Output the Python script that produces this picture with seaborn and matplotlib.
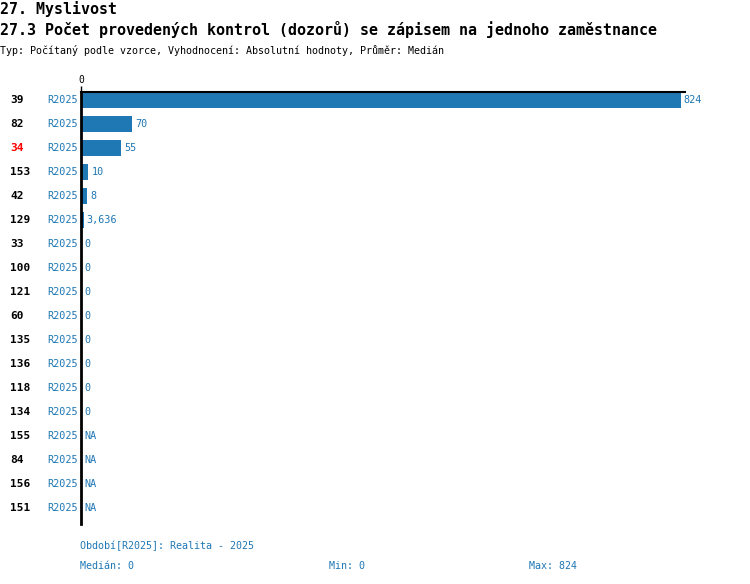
import seaborn as sns
import matplotlib.pyplot as plt
import matplotlib.transforms as mtransforms
import numpy as np
import pandas as pd

# data
ids = ["39", "82", "34", "153", "42", "129", "33", "100", "121", "60",
       "135", "136", "118", "134", "155", "84", "156", "151"]
values = [824, 70, 55, 10, 8, 3.636, 0, 0, 0, 0, 0, 0, 0, 0,
          np.nan, np.nan, np.nan, np.nan]
value_labels = ["824", "70", "55", "10", "8", "3,636", "0", "0", "0", "0",
                "0", "0", "0", "0", "NA", "NA", "NA", "NA"]
period = "R2025"
highlight = "34"

df = pd.DataFrame({"id": ids, "val": values})

sns.set_style("white")
plt.rcParams["font.family"] = ["DejaVu Sans Mono", "DejaVu Sans"]
plt.rcParams["text.color"] = "black"
plt.rcParams["xtick.color"] = "black"
blue = "#1f77b4"

fig = plt.figure(figsize=(7.5, 5.84), dpi=100)
ax = fig.add_axes([81 / 750, 1 - 524 / 584, 604 / 750, 432 / 584])

sns.barplot(data=df, x="val", y="id", order=ids, orient="h",
            color=blue, width=0.67, saturation=1, linewidth=0, ax=ax)

ax.set_xlim(0, 830)
ax.set_ylim(len(ids) - 1 + 0.67, -0.33)
ax.set_xlabel("")
ax.set_ylabel("")
ax.set_yticks([])
ax.set_xticks([0])
ax.xaxis.tick_top()
ax.tick_params(axis="x", length=4, width=1, pad=1, labelsize=7, color="black")
for s in ["right", "bottom"]:
    ax.spines[s].set_visible(False)
ax.spines["left"].set_linewidth(2)
ax.spines["left"].set_color("black")
ax.spines["top"].set_linewidth(1.5)
ax.spines["top"].set_color("black")
ax.spines["left"].set_zorder(5)

tr = mtransforms.blended_transform_factory(fig.transFigure, ax.transData)
for i, (rid, v, lab) in enumerate(zip(ids, values, value_labels)):
    ax.text(10 / 750, i, rid, transform=tr, ha="left", va="center",
            fontsize=8, fontweight="bold",
            color="red" if rid == highlight else "black")
    ax.text(78 / 750, i, period, transform=tr, ha="right", va="center",
            fontsize=7.3, color=blue)
    xv = 0 if np.isnan(v) else v
    ax.annotate(lab, (xv, i), xytext=(2.2, 0), textcoords="offset points",
                ha="left", va="center", fontsize=7.3, color=blue)

# titles
fig.text(0, 1 - 14 / 584, "27. Myslivost", fontsize=10.8, fontweight="bold",
         va="baseline", ha="left")
fig.text(0, 1 - 35 / 584,
         "27.3 Počet provedených kontrol (dozorů) se zápisem na jednoho zaměstnance",
         fontsize=10.8, fontweight="bold", va="baseline", ha="left")
fig.text(0, 1 - 54 / 584,
         "Typ: Počítaný podle vzorce, Vyhodnocení: Absolutní hodnoty, Průměr: Medián",
         fontsize=7.2, va="baseline", ha="left")

# footer
fig.text(80 / 750, 1 - 546 / 584, "Období[R2025]: Realita - 2025",
         fontsize=7.2, color=blue, va="center")
fig.text(80 / 750, 1 - 566 / 584, "Medián: 0", fontsize=7.2, color=blue, va="center")
fig.text(329 / 750, 1 - 566 / 584, "Min: 0", fontsize=7.2, color=blue, va="center")
fig.text(529 / 750, 1 - 566 / 584, "Max: 824", fontsize=7.2, color=blue, va="center")

fig.savefig("out.png", dpi=100)
